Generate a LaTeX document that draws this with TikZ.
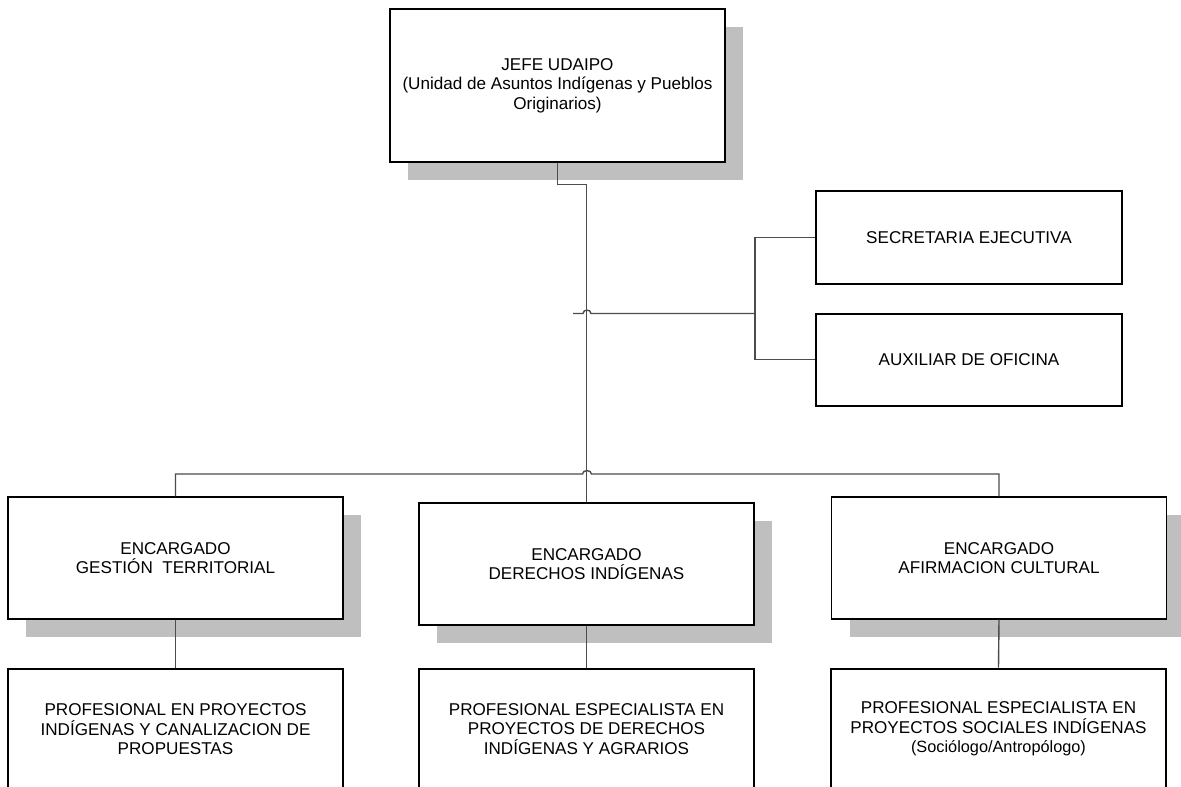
\documentclass[tikz,border=0pt]{standalone}
\usepackage{fontspec}
\setmainfont{Liberation Sans}
\usetikzlibrary{shadows}
\tikzset{unit/.style={shape=rectangle, draw=black, fill=white, line width=1.1pt,
  inner sep=0, align=center, font=\fontsize{17.1}{19.5}\selectfont},
  chief/.style={unit, drop shadow={shadow xshift=18pt, shadow yshift=-18pt,
  fill=black!25, opacity=1}}, link/.style={draw=black!70, line width=1.4pt}}

\begin{document}
\begin{tikzpicture}[x=1pt, y=-1pt]
    \useasboundingbox (0,0) rectangle (1181,787);
    \node [chief, minimum width=335pt, minimum height=153pt] (jefe) at (557.5,85.5)
        {JEFE UDAIPO\\(Unidad de Asuntos Indígenas y Pueblos\\Originarios)};
    \node [unit, minimum width=306pt, minimum height=93pt] (sec) at (969,237.5)
        {SECRETARIA EJECUTIVA};
    \node [unit, line width=2pt, minimum width=306pt, minimum height=92pt] (aux) at (969,359.5)
        {AUXILIAR DE OFICINA};
    \foreach \px/\py/\txt [count=\i] in {175.5/558/{ENCARGADO\\GESTIÓN~ TERRITORIAL},
        586.5/564/{ENCARGADO\\DERECHOS INDÍGENAS}, 999/558/{ENCARGADO\\AFIRMACION CULTURAL}}
        \node [chief, minimum width=335pt, minimum height=122pt] (enc-\i) at (\px,\py) {\txt};
    \foreach \px/\py/\lw/\txt [count=\i] in
        {175.5/729.5/1.1/{PROFESIONAL EN PROYECTOS\\INDÍGENAS Y CANALIZACION DE\\PROPUESTAS},
        586.5/729/2/{PROFESIONAL ESPECIALISTA EN\\PROYECTOS DE DERECHOS\\INDÍGENAS Y AGRARIOS},
        998.5/729/2/{PROFESIONAL ESPECIALISTA EN\\PROYECTOS SOCIALES INDÍGENAS\\
        {\fontsize{16.3}{19.5}\selectfont(Sociólogo/Antropólogo)}}}
        \node [unit, line width=\lw pt, minimum width=335pt, minimum height=121pt]
            (pro-\i) at (\px,\py) {\txt};
    \coordinate (stub) at (573,313.5);
    \coordinate (brk) at (755,313.5);
    \draw [link] (jefe.south) -- ++(0,22) -| (enc-2.north);
    \draw [link] (stub) -- (583,313.5) .. controls (583,309) and (591,309) .. (591,313.5) -- (brk);
    \draw [link] (sec.west) -| (brk) |- (aux.west);
    \draw [link] (enc-1.north) |- (582.5,474) .. controls (582.5,469.5) and (591.5,469.5)
        .. (591.5,474) -| (enc-3.north);
    \foreach \i in {1, 2, 3}
        \draw [link] (enc-\i.south) -- (pro-\i.north);
\end{tikzpicture}
\end{document}
